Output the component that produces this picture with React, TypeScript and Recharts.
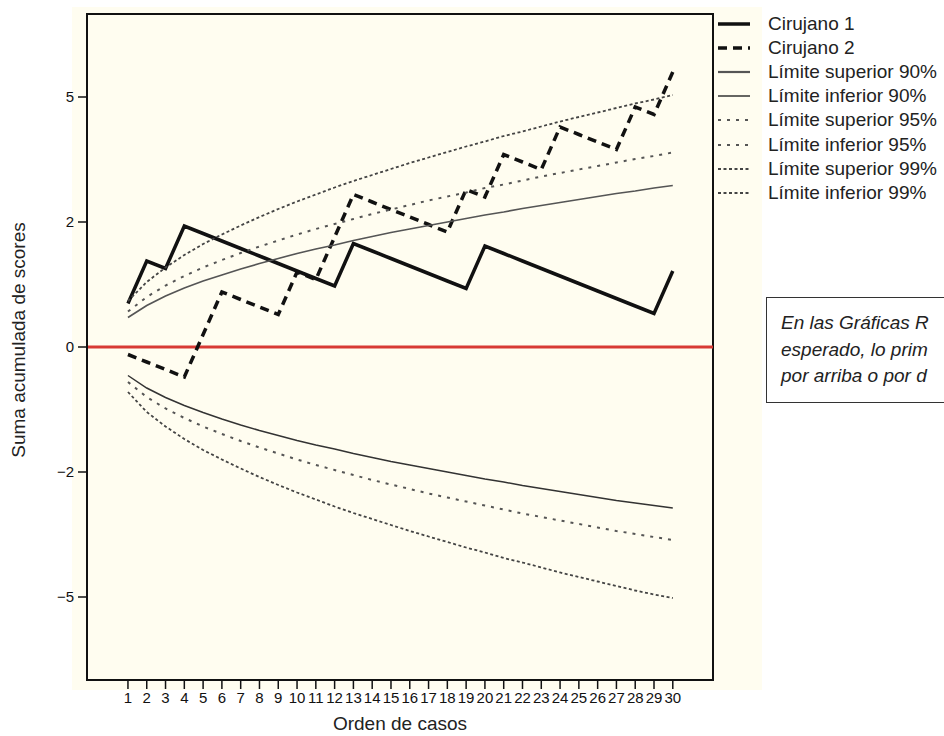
import { LineChart, Line, XAxis, YAxis, ReferenceLine, ReferenceArea } from 'recharts';

// Orden de casos
const casos = [1, 2, 3, 4, 5, 6, 7, 8, 9, 10, 11, 12, 13, 14, 15, 16, 17, 18, 19, 20, 21, 22, 23, 24, 25, 26, 27, 28, 29, 30];

// Suma acumulada de scores
const cirujano1 = [0.87, 1.72, 1.57, 2.42, 2.27, 2.12, 1.97, 1.82, 1.67, 1.52, 1.37, 1.22, 2.07, 1.92, 1.77, 1.62, 1.47, 1.32, 1.17, 2.02, 1.87, 1.72, 1.57, 1.42, 1.27, 1.12, 0.97, 0.82, 0.67, 1.52];
const cirujano2 = [-0.15, -0.3, -0.45, -0.6, 0.25, 1.1, 0.95, 0.8, 0.65, 1.5, 1.35, 2.2, 3.05, 2.9, 2.75, 2.6, 2.45, 2.3, 3.15, 3.0, 3.85, 3.7, 3.55, 4.4, 4.25, 4.1, 3.95, 4.8, 4.65, 5.5];

const sup90 = [0.59, 0.83, 1.02, 1.18, 1.32, 1.44, 1.56, 1.67, 1.77, 1.87, 1.96, 2.04, 2.13, 2.21, 2.29, 2.36, 2.43, 2.5, 2.57, 2.64, 2.7, 2.77, 2.83, 2.89, 2.95, 3.01, 3.07, 3.12, 3.18, 3.23];
const inf90 = [-0.57, -0.82, -1.01, -1.17, -1.31, -1.44, -1.56, -1.67, -1.77, -1.87, -1.96, -2.04, -2.13, -2.21, -2.29, -2.36, -2.43, -2.5, -2.57, -2.64, -2.7, -2.77, -2.83, -2.89, -2.95, -3.01, -3.07, -3.12, -3.17, -3.22];
const sup95 = [0.71, 1.0, 1.23, 1.42, 1.59, 1.74, 1.88, 2.01, 2.13, 2.25, 2.36, 2.46, 2.56, 2.66, 2.75, 2.84, 2.93, 3.01, 3.09, 3.18, 3.25, 3.33, 3.41, 3.48, 3.55, 3.62, 3.69, 3.76, 3.82, 3.89];
const inf95 = [-0.7, -1.0, -1.23, -1.42, -1.59, -1.74, -1.88, -2.01, -2.13, -2.25, -2.36, -2.46, -2.56, -2.66, -2.75, -2.84, -2.93, -3.01, -3.09, -3.17, -3.25, -3.33, -3.4, -3.47, -3.54, -3.61, -3.68, -3.74, -3.8, -3.86];
const sup99 = [0.92, 1.3, 1.59, 1.84, 2.06, 2.25, 2.43, 2.6, 2.76, 2.91, 3.05, 3.19, 3.32, 3.44, 3.56, 3.68, 3.79, 3.9, 4.01, 4.11, 4.22, 4.31, 4.41, 4.51, 4.6, 4.69, 4.78, 4.87, 4.95, 5.04];
const inf99 = [-0.9, -1.3, -1.59, -1.84, -2.06, -2.25, -2.43, -2.6, -2.76, -2.91, -3.05, -3.19, -3.32, -3.44, -3.56, -3.68, -3.79, -3.9, -4.01, -4.11, -4.22, -4.31, -4.41, -4.51, -4.6, -4.69, -4.78, -4.87, -4.95, -5.02];

const yTicks = [-5, -2.5, 0, 2.5, 5];
const yTickLabels = ['\u22125', '\u22122', '0', '2', '5'];

const xDomain: [number, number] = [-1.18, 32.14];
const yDomain: [number, number] = [-6.66, 6.66];

const data = casos.map((c, i) => ({
  caso: c,
  c1: cirujano1[i],
  c2: cirujano2[i],
  s90: sup90[i],
  i90: inf90[i],
  s95: sup95[i],
  i95: inf95[i],
  s99: sup99[i],
  i99: inf99[i],
}));

const series = [
  { key: 'c1', name: 'Cirujano 1', stroke: '#111', width: 3.5, dash: undefined as string | undefined, legendWidth: 3.5 },
  { key: 'c2', name: 'Cirujano 2', stroke: '#111', width: 3.5, dash: '9 6', legendWidth: 3.5 },
  { key: 's90', name: 'Límite superior 90%', stroke: '#555', width: 1.7, dash: undefined, legendWidth: 2.2 },
  { key: 'i90', name: 'Límite inferior 90%', stroke: '#333', width: 1.5, dash: undefined, legendWidth: 1.5 },
  { key: 's95', name: 'Límite superior 95%', stroke: '#555', width: 2, dash: '3 6', legendWidth: 2 },
  { key: 'i95', name: 'Límite inferior 95%', stroke: '#555', width: 2, dash: '3 6', legendWidth: 2 },
  { key: 's99', name: 'Límite superior 99%', stroke: '#444', width: 1.8, dash: '3 2.5', legendWidth: 1.8 },
  { key: 'i99', name: 'Límite inferior 99%', stroke: '#444', width: 1.8, dash: '3 2.5', legendWidth: 1.8 },
];

const font = '"Liberation Sans", Arial, Helvetica, sans-serif';

export default function App() {
  return (
    <div style={{ position: 'fixed', left: 0, top: 0, width: 944, height: 736, overflow: 'hidden', background: '#fff', fontFamily: font }}>
      {/* cream panel behind the plot */}
      <div style={{ position: 'absolute', left: 72, top: 7, width: 690, height: 683, background: '#fffdf0' }} />

      <div style={{ position: 'absolute', left: 0, top: 0 }}>
        <LineChart width={944} height={736} data={data} margin={{ top: 14, right: 231, left: 27, bottom: 26 }}>
          <XAxis
            dataKey="caso"
            type="number"
            domain={xDomain}
            ticks={casos}
            interval={0}
            allowDataOverflow
            height={30}
            tickSize={9}
            tickMargin={3}
            axisLine={{ stroke: '#111', strokeWidth: 2 }}
            tickLine={{ stroke: '#111', strokeWidth: 1.5 }}
            tick={{ fontSize: 15, fill: '#111', fontFamily: font }}
          />
          <YAxis
            type="number"
            domain={yDomain}
            ticks={yTicks}
            allowDataOverflow
            width={60}
            tickSize={9}
            tickMargin={4}
            tickFormatter={(v: number) => yTickLabels[yTicks.indexOf(v)] ?? String(v)}
            axisLine={{ stroke: '#111', strokeWidth: 2 }}
            tickLine={{ stroke: '#111', strokeWidth: 1.5 }}
            tick={{ fontSize: 15, fill: '#111', fontFamily: font }}
          />
          {/* plot frame */}
          <ReferenceArea x1={xDomain[0]} x2={xDomain[1]} y1={yDomain[0]} y2={yDomain[1]} fill="none" fillOpacity={0} stroke="#111" strokeWidth={2} ifOverflow="visible" />
          <ReferenceLine y={0} stroke="#d83a34" strokeWidth={3} />
          {series.map((s) => (
            <Line
              key={s.key}
              dataKey={s.key}
              name={s.name}
              type="linear"
              stroke={s.stroke}
              strokeWidth={s.width}
              strokeDasharray={s.dash}
              strokeLinejoin="miter"
              dot={false}
              activeDot={false}
              isAnimationActive={false}
            />
          ))}
        </LineChart>
      </div>

      {/* legend */}
      <div style={{ position: 'absolute', left: 716, top: 12 }}>
        {series.map((s) => (
          <div key={s.key} style={{ display: 'flex', alignItems: 'center', height: 24.1 }}>
            <svg width={40} height={10} style={{ marginRight: 12 }}>
              <line x1={2} y1={5} x2={34} y2={5} stroke={s.stroke} strokeWidth={s.legendWidth} strokeDasharray={s.dash} />
            </svg>
            <span style={{ fontSize: 19, color: '#222', whiteSpace: 'nowrap' }}>{s.name}</span>
          </div>
        ))}
      </div>

      {/* note box, cut by the right edge */}
      <div style={{ position: 'absolute', left: 766, top: 297, width: 260, height: 106, border: '1.5px solid #333', background: '#fff', boxSizing: 'border-box' }}>
        <div style={{ padding: '12px 0 0 14px', fontStyle: 'italic', fontSize: 19, lineHeight: '26.5px', color: '#222', whiteSpace: 'nowrap' }}>
          <div>En las Gráficas R</div>
          <div>esperado, lo prim</div>
          <div>por arriba o por d</div>
        </div>
      </div>

      {/* axis titles */}
      <div style={{ position: 'absolute', left: 400, top: 724, transform: 'translate(-50%, -50%)', fontSize: 19, color: '#222', whiteSpace: 'nowrap' }}>
        Orden de casos
      </div>
      <div style={{ position: 'absolute', left: 19, top: 340, transform: 'translate(-50%, -50%) rotate(-90deg)', fontSize: 19, color: '#222', whiteSpace: 'nowrap' }}>
        Suma acumulada de scores
      </div>
    </div>
  );
}
